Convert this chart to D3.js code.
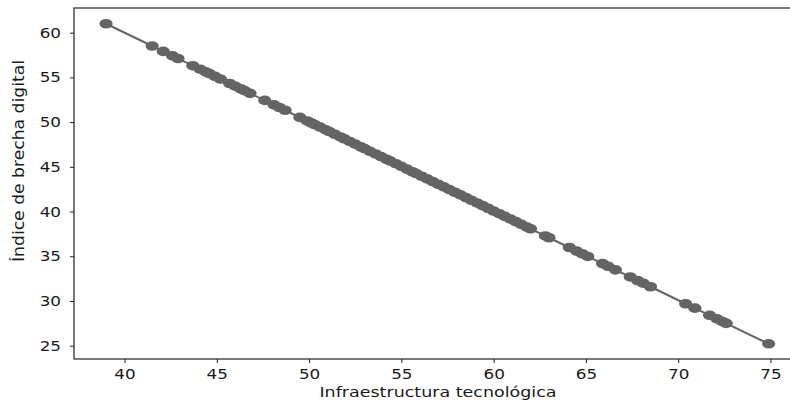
<!DOCTYPE html>
<html>
<head>
<meta charset="utf-8">
<script src="https://cdn.jsdelivr.net/npm/d3@7"></script>
<style>
  body { margin: 0; background: #fff; }
  svg { display: block; }
  text { font-family: "DejaVu Sans", sans-serif; fill: #1a1a1a; }
</style>
</head>
<body>
<svg width="790" height="400"></svg>
<script>
// Infraestructura tecnológica (x) vs Índice de brecha digital (y)
const infra = [
  39.0, 41.5, 42.1, 42.6, 42.9, 43.7, 44.1, 44.4, 44.6, 44.9, 45.2, 45.7, 46.0, 46.3, 46.5, 46.8,
  47.6, 48.1, 48.4, 48.7, 49.5, 49.9, 50.1, 50.3, 50.6, 50.9, 51.1, 51.4, 51.7, 51.9, 52.2, 52.5,
  52.8, 53.0, 53.3, 53.6, 53.9, 54.2, 54.4, 54.7, 55.0, 55.3, 55.6, 55.8, 56.1, 56.4, 56.7, 57.0,
  57.3, 57.6, 57.9, 58.2, 58.5, 58.8, 59.1, 59.4, 59.7, 60.0, 60.3, 60.6, 60.9, 61.2, 61.5, 61.8,
  62.0, 62.8, 63.0, 64.1, 64.5, 64.8, 65.1, 65.9, 66.2, 66.6, 67.4, 67.8, 68.1, 68.5, 70.4, 70.9,
  71.7, 72.1, 72.4, 72.6, 74.9
];
const brecha = [
  61.00, 58.51, 57.91, 57.41, 57.11, 56.31, 55.92, 55.62, 55.42, 55.12, 54.82, 54.32, 54.02, 53.72, 53.52, 53.22,
  52.43, 51.93, 51.63, 51.33, 50.53, 50.13, 49.93, 49.73, 49.44, 49.14, 48.94, 48.64, 48.34, 48.14, 47.84, 47.54,
  47.24, 47.04, 46.74, 46.44, 46.14, 45.85, 45.65, 45.35, 45.05, 44.75, 44.45, 44.25, 43.95, 43.65, 43.35, 43.05,
  42.76, 42.46, 42.16, 41.86, 41.56, 41.26, 40.96, 40.66, 40.36, 40.06, 39.76, 39.46, 39.17, 38.87, 38.57, 38.27,
  38.07, 37.27, 37.07, 35.98, 35.58, 35.28, 34.98, 34.18, 33.88, 33.48, 32.69, 32.29, 31.99, 31.59, 29.69, 29.20,
  28.40, 28.00, 27.70, 27.50, 25.21
];
const xTicks = [40, 45, 50, 55, 60, 65, 70, 75];
const yTicks = [25, 30, 35, 40, 45, 50, 55, 60];

const svg = d3.select("svg");
const plotLeft = 74, plotRight = 804, plotTop = 8, plotBottom = 359;
const stretch = 1.2; // reference is a bit wider than tall

const x = d3.scaleLinear().domain([40, 75]).range([124.5, 770.5]);
const y = d3.scaleLinear().domain([25, 60]).range([345.7, 32.7]);

const points = infra.map((v, i) => ({ x: v, y: brecha[i] }));

// line + markers
svg.append("path")
  .datum(points)
  .attr("fill", "none")
  .attr("stroke", "#646464")
  .attr("stroke-width", 2)
  .attr("d", d3.line().x(d => x(d.x)).y(d => y(d.y)));

svg.append("g")
  .selectAll("ellipse")
  .data(points)
  .join("ellipse")
  .attr("cx", d => x(d.x))
  .attr("cy", d => y(d.y))
  .attr("rx", 6.6)
  .attr("ry", 4.8)
  .attr("fill", "#646464");

// frame
svg.append("rect")
  .attr("x", plotLeft).attr("y", plotTop)
  .attr("width", plotRight - plotLeft).attr("height", plotBottom - plotTop)
  .attr("fill", "none")
  .attr("stroke", "#222")
  .attr("stroke-width", 1.2);

// axes
const gx = svg.append("g")
  .attr("transform", `translate(0,${plotBottom})`)
  .call(d3.axisBottom(x).tickValues(xTicks).tickSize(4).tickSizeOuter(0));
gx.select(".domain").remove();
gx.selectAll("line").attr("stroke", "#222");
gx.selectAll("text")
  .attr("y", 0)
  .attr("transform", `translate(0,10) scale(${stretch},1)`)
  .style("font-size", "14px")
  .attr("fill", "#1a1a1a");

const gy = svg.append("g")
  .attr("transform", `translate(${plotLeft},0)`)
  .call(d3.axisLeft(y).tickValues(yTicks).tickSize(4).tickSizeOuter(0));
gy.select(".domain").remove();
gy.selectAll("line").attr("stroke", "#222");
gy.selectAll("text")
  .attr("x", 0)
  .attr("transform", `translate(-13,0) scale(${stretch},1)`)
  .style("font-size", "14px")
  .attr("fill", "#1a1a1a");

// axis titles
svg.append("text")
  .attr("transform", `translate(438,397) scale(1.25,1)`)
  .attr("text-anchor", "middle")
  .style("font-size", "14px")
  .text("Infraestructura tecnológica");

svg.append("text")
  .attr("transform", `translate(24,161) scale(1.15,1) rotate(-90)`)
  .attr("text-anchor", "middle")
  .attr("textLength", 202)
  .attr("lengthAdjust", "spacingAndGlyphs")
  .style("font-family", "'DejaVu Sans Condensed', 'DejaVu Sans', sans-serif")
  .style("font-size", "14px")
  .text("Índice de brecha digital");
</script>
</body>
</html>
